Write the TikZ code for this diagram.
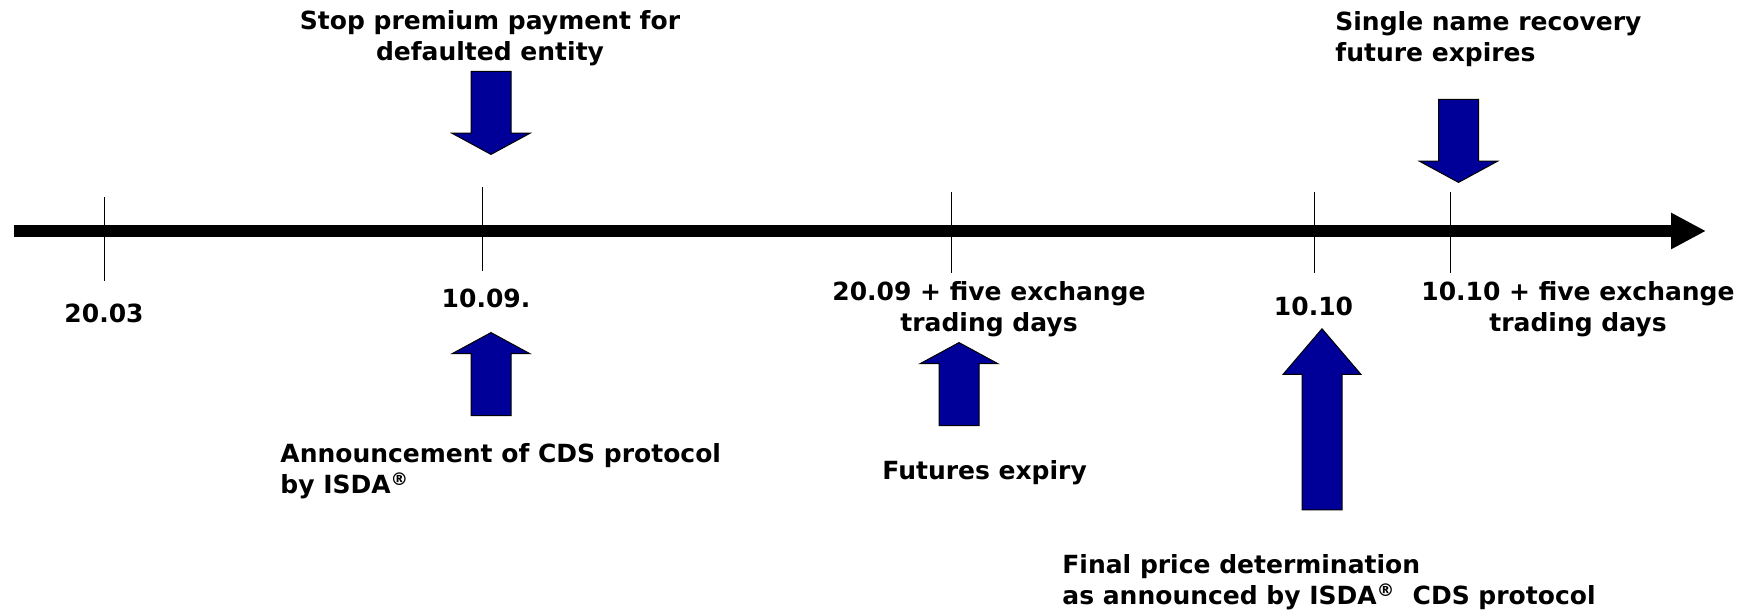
\documentclass[tikz,border=0pt]{standalone}
\usepackage{fontspec}
\setmainfont{DejaVu Sans}
\usepackage{xcolor}
\usepackage{tikz}
\usetikzlibrary{shapes.arrows, arrows.meta, positioning}
\definecolor{primary}{HTML}{000000}
\definecolor{navyfill}{HTML}{000099}

\begin{document}
\begin{tikzpicture}[
    x=0.5pt, y=-0.5pt,
    font=\fontsize{12.5}{15.7}\selectfont\bfseries,
    datelabel/.style={inner sep=0pt, align=center, anchor=base},
    eventtext/.style={inner sep=0pt, align=left, anchor=base west},
    blockarrow/.style={single arrow, draw=primary, fill=navyfill, line width=0.5pt, inner xsep=0pt, inner ysep=9.75pt, minimum width=38.5pt, single arrow head extend=9.5pt, single arrow tip angle=123, minimum height=41.5pt, anchor=tip},
    downarrow/.style={blockarrow, rotate=-90},
    uparrow/.style={blockarrow, rotate=90},
    axis/.style={-{Triangle[length=17.5pt, width=17pt]}, line width=6pt, color=primary},
    tickline/.style={line width=0.5pt, color=primary}
]
    \useasboundingbox (0,0) rectangle (1751,613);

    \coordinate (start) at (14,231);
    \coordinate (end) at (1706,231);
    \draw[axis] (start) -- (end);

    \foreach \x/\t/\b in {104.5/197/281, 482/187/271, 951.5/192/273, 1314/192/273, 1450/192/273}
        \draw[tickline] (\x,\t) -- (\x,\b);

    \node[datelabel] (d2003) at (104,323) {20.03};
    \node[datelabel] (d1009) at (486,308) {10.09.};
    \node[datelabel] (d2009) at (989,332) {20.09 + five exchange\\trading days};
    \node[datelabel] (d1010) at (1313.5,316) {10.10};
    \node[datelabel] (d1010b) at (1578,332) {10.10 + five exchange\\trading days};

    \node[datelabel] (stop) at (490,61) {Stop premium payment for\\defaulted entity};
    \node[eventtext] (single) at (1335,62) {Single name recovery\\future expires};
    \node[eventtext] (announce) at (280,494) {Announcement of CDS protocol\\by ISDA\textsuperscript{®}};
    \node[eventtext] (futures) at (882,480) {Futures expiry};
    \node[eventtext] (final) at (1062,605) {Final price determination\\as announced by ISDA\textsuperscript{®}\ \ CDS protocol};

    \node[downarrow] (stoparrow) at (491,155) {};
    \node[downarrow] (singlearrow) at (1458.5,183) {};
    \node[uparrow] (announcearrow) at (491,332) {};
    \node[uparrow] (futuresarrow) at (959,342) {};
    \node[uparrow, minimum height=90.5pt, single arrow tip angle=81] (finalarrow) at (1322,328) {};
\end{tikzpicture}
\end{document}
